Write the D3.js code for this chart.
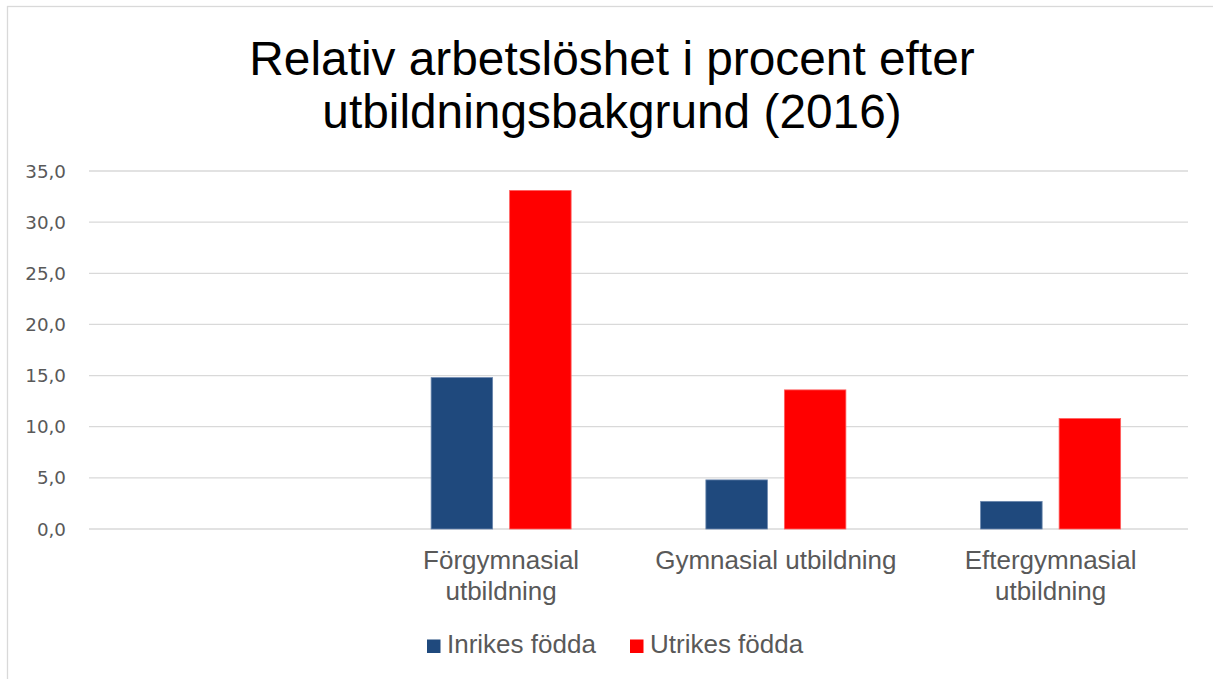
<!DOCTYPE html>
<html>
<head>
<meta charset="utf-8">
<script src="https://cdn.jsdelivr.net/npm/d3@7"></script>
<style>
  body { margin: 0; background: #fff; }
  svg { display: block; }
</style>
</head>
<body>
<div id="chart"></div>
<script>
// chart data
const categories = ["", "Förgymnasial utbildning", "Gymnasial utbildning", "Eftergymnasial utbildning"];
const categoryLines = [[], ["Förgymnasial", "utbildning"], ["Gymnasial utbildning"], ["Eftergymnasial", "utbildning"]];
const seriesNames = ["Inrikes födda", "Utrikes födda"];
const inrikes = [null, 14.8, 4.8, 2.7];
const utrikes = [null, 33.1, 13.6, 10.8];
const yTicks = [0, 5, 10, 15, 20, 25, 30, 35];
const colors = ["#1F497D", "#FF0000"];

const width = 1213, height = 679;
const plot = { left: 89, right: 1188, top: 171, bottom: 529 };

const svg = d3.select("#chart").append("svg")
    .attr("width", width)
    .attr("height", height);

// chart frame
svg.append("rect")
    .attr("x", 7.5).attr("y", 6.5)
    .attr("width", width + 10).attr("height", height + 10)
    .attr("fill", "#fff")
    .attr("stroke", "#d9d9d9")
    .attr("stroke-width", 1.3);

// title
svg.append("text")
    .attr("x", 612).attr("y", 75)
    .attr("text-anchor", "middle")
    .style("font-family", "'Liberation Sans', Arial, sans-serif")
    .style("font-size", "47.8px")
    .attr("fill", "#000")
    .selectAll("tspan")
    .data(["Relativ arbetslöshet i procent efter", "utbildningsbakgrund (2016)"])
    .enter().append("tspan")
    .attr("x", 612)
    .attr("dy", (d, i) => i === 0 ? 0 : 53)
    .text(d => d);

// scales
const x0 = d3.scaleBand().domain(categories).range([plot.left, plot.right]);
const x1 = d3.scaleBand().domain(seriesNames)
    .range([(x0.bandwidth() - 140) / 2, (x0.bandwidth() + 140) / 2])
    .paddingInner(0.2166);
const y = d3.scaleLinear().domain([0, 35]).range([plot.bottom, plot.top]);

// gridlines
svg.append("g").selectAll("line")
    .data(yTicks)
    .enter().append("line")
    .attr("x1", plot.left).attr("x2", plot.right)
    .attr("y1", d => y(d)).attr("y2", d => y(d))
    .attr("stroke", "#d9d9d9")
    .attr("stroke-width", 1.3);

// y axis labels
const fmt = d => d.toFixed(1).replace(".", ",");
svg.append("g").selectAll("text")
    .data(yTicks)
    .enter().append("text")
    .attr("x", 66).attr("y", d => y(d))
    .attr("dy", "0.36em")
    .attr("text-anchor", "end")
    .style("font-family", "'DejaVu Sans', sans-serif")
    .style("font-size", "18.3px")
    .attr("fill", "#595959")
    .text(fmt);

// bars
const series = [inrikes, utrikes];
seriesNames.forEach((name, s) => {
    svg.append("g").selectAll("rect")
        .data(categories.map((c, i) => ({ c, v: series[s][i] })).filter(d => d.v != null))
        .enter().append("rect")
        .attr("x", d => x0(d.c) + x1(name))
        .attr("width", x1.bandwidth())
        .attr("y", d => y(d.v))
        .attr("height", d => y(0) - y(d.v))
        .attr("fill", colors[s])
        .attr("stroke", s === 0 ? "#6a86ad" : "#ff6060")
        .attr("stroke-width", 0.8);
});

// category labels
const catG = svg.append("g");
categories.forEach((c, i) => {
    const t = catG.append("text")
        .attr("text-anchor", "middle")
        .style("font-family", "'Liberation Sans', Arial, sans-serif")
        .style("font-size", "26px")
        .attr("fill", "#595959");
    categoryLines[i].forEach((line, j) => {
        t.append("tspan")
            .attr("x", x0(c) + x0.bandwidth() / 2)
            .attr("y", 569 + j * 31)
            .text(line);
    });
});

// legend
const legendX = [427, 630];
const legend = svg.append("g");
seriesNames.forEach((name, s) => {
    legend.append("rect")
        .attr("x", legendX[s]).attr("y", 639.5)
        .attr("width", 13.5).attr("height", 13.5)
        .attr("fill", colors[s]);
    legend.append("text")
        .attr("x", legendX[s] + 20).attr("y", 653)
        .style("font-family", "'Liberation Sans', Arial, sans-serif")
        .style("font-size", "26px")
        .attr("fill", "#595959")
        .text(name);
});
</script>
</body>
</html>
